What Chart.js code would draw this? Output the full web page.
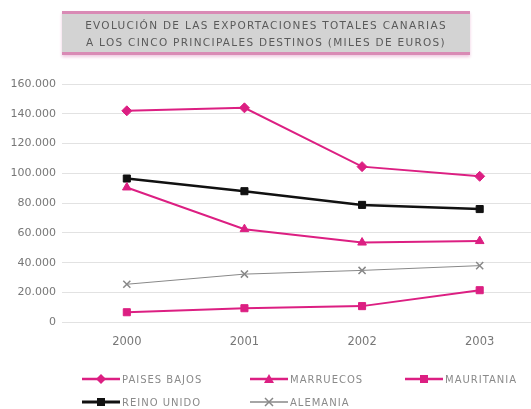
<!DOCTYPE html>
<html>
<head>
<meta charset="utf-8">
<script src="https://cdn.jsdelivr.net/npm/chart.js@4/dist/chart.umd.min.js"></script>
<style>
	body { margin:0; background:#fff; font-family:"DejaVu Sans", sans-serif; overflow:hidden; }
	#wrap { position:relative; width:531px; height:409px; overflow:hidden; }
	#chart { position:absolute; left:0; top:0; }
	#title { position:absolute; left:62px; top:11px; width:408px; height:44px; background:#d3d3d3;
		border-top:3px solid #d98ab5; border-bottom:3px solid #d98ab5; box-shadow:0 2px 3px #f0c8e0;
		color:#5a5a5a; font-size:10.5px; text-align:center; line-height:17px; padding-top:3px; box-sizing:border-box; letter-spacing:1.3px; white-space:nowrap; }
	.leg { position:absolute; font-size:10px; color:#8a8a8a; display:flex; align-items:center; letter-spacing:1px; height:12px; }
	.leg svg { margin-right:2px; }
</style>
</head>
<body>
<div id="wrap">
	<canvas id="chart" width="545" height="409"></canvas>
	<div id="title">EVOLUCIÓN DE LAS EXPORTACIONES TOTALES CANARIAS<br>A LOS CINCO PRINCIPALES DESTINOS (MILES DE EUROS)</div>
	<div id="legend"></div>
</div>
<script>
const years = ['2000', '2001', '2002', '2003'];
const paisesBajos = [142000, 144000, 104500, 98000];
const marruecos = [90500, 62500, 53500, 54500];
const mauritania = [6700, 9400, 10800, 21500];
const reinoUnido = [96500, 88000, 78800, 76000];
const alemania = [25500, 32300, 34800, 38000];
const yTicks = [0, 20000, 40000, 60000, 80000, 100000, 120000, 140000, 160000];

const pink = '#dc1f82';
const series = [
	{ label: 'PAISES BAJOS', data: paisesBajos, color: pink, style: 'rectRot', r: 5, w: 2 },
	{ label: 'MARRUECOS', data: marruecos, color: pink, style: 'triangle', r: 5, w: 2 },
	{ label: 'MAURITANIA', data: mauritania, color: pink, style: 'rect', r: 5, w: 2 },
	{ label: 'REINO UNIDO', data: reinoUnido, color: '#111', style: 'rect', r: 5, w: 2.5 },
	{ label: 'ALEMANIA', data: alemania, color: '#888', style: 'crossRot', r: 5, w: 1 }
];

Chart.defaults.font.family = '"DejaVu Sans", sans-serif';

new Chart(document.getElementById('chart'), {
	type: 'line',
	data: {
		labels: years,
		datasets: series.map(s => ({
			label: s.label, data: s.data, borderColor: s.color, backgroundColor: s.color,
			borderWidth: s.w, pointStyle: s.style, pointRadius: s.r, pointBorderWidth: s.style === 'crossRot' ? 1.5 : 1,
			tension: 0
		}))
	},
	options: {
		responsive: false, animation: false,
		layout: { padding: { top: 84, right: 6, bottom: 55, left: 0 } },
		plugins: { legend: { display: false }, tooltip: { enabled: false } },
		scales: {
			x: {
				offset: true,
				grid: { display: false },
				border: { display: false },
				ticks: { color: '#777', font: { size: 11.5 }, padding: 5 }
			},
			y: {
				min: 0, max: 160000,
				afterBuildTicks: ax => { ax.ticks = yTicks.map(v => ({ value: v })); },
				afterFit: ax => { ax.width = 68; },
				grid: { color: '#e2e2e2', drawTicks: true, tickLength: 6 },
				border: { display: false },
				ticks: {
					color: '#777', font: { size: 11 }, padding: 6,
					callback: v => v.toLocaleString('de-DE')
				}
			}
		}
	}
});

// legend built by hand: line + marker like the original
const legPos = [[82, 373], [250, 373], [405, 373], [82, 396], [250, 396]];
const legBox = document.getElementById('legend');
series.forEach((s, i) => {
	const d = document.createElement('div');
	d.className = 'leg';
	d.style.left = legPos[i][0] + 'px';
	d.style.top = legPos[i][1] + 'px';
	let mk = '';
	if (s.style === 'rectRot') mk = '<polygon points="19,1 24,6 19,11 14,6" fill="' + s.color + '"/>';
	else if (s.style === 'triangle') mk = '<polygon points="19,1 24,10 14,10" fill="' + s.color + '"/>';
	else if (s.style === 'rect') mk = '<rect x="15" y="2" width="8" height="8" fill="' + s.color + '"/>';
	else mk = '<path d="M15 2 L23 10 M23 2 L15 10" stroke="' + s.color + '" stroke-width="1.5"/>';
	d.innerHTML = '<svg width="38" height="12"><line x1="0" y1="6" x2="38" y2="6" stroke="' + s.color + '" stroke-width="' + (s.w + 0.5) + '"/>' + mk + '</svg>' + s.label;
	legBox.append(d);
});
</script>
</body>
</html>
